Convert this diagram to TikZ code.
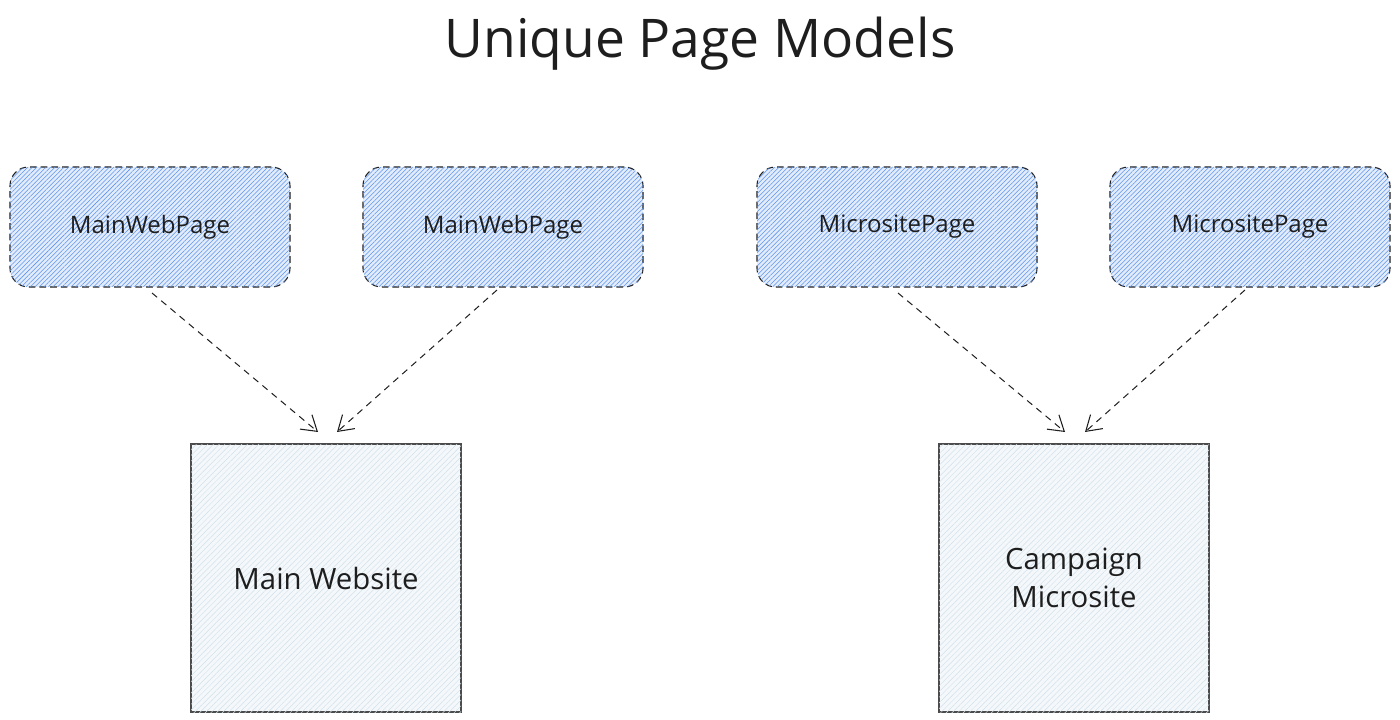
\documentclass[tikz,border=0pt]{standalone}
\usepackage{fontspec}
\setmainfont{Open Sans}
\usetikzlibrary{arrows.meta,patterns,patterns.meta}
\definecolor{pagefill}{HTML}{E2ECFC}
\definecolor{pageline}{HTML}{5B93EC}
\definecolor{sitefill}{HTML}{F5F8FB}
\definecolor{siteline}{HTML}{CFE0EA}
\definecolor{ink}{HTML}{1E1E1E}
\begin{document}
\begin{tikzpicture}[x=0.75pt,y=-0.75pt,
  pagebox/.style={draw=ink,dashed,dash pattern=on 5pt off 3pt,line width=0.8pt,rounded corners=14pt,
     minimum width=210pt,minimum height=90pt,fill=pagefill,
     postaction={pattern={Lines[angle=45,distance=2.4pt,line width=0.4pt]},pattern color=pageline},
     font=\fontsize{18}{22}\selectfont,text=ink},
  sitebox/.style={draw=ink!80,line width=1pt,minimum width=202.5pt,minimum height=201pt,fill=sitefill,
     postaction={pattern={Lines[angle=45,distance=3pt,line width=0.35pt]},pattern color=siteline},
     font=\fontsize{22}{28.5}\selectfont,text=ink,align=center},
  link/.style={draw=ink,line width=0.75pt,dash pattern=on 5pt off 4pt,
     -{Straight Barb[length=11pt,width=14pt,line width=0.8pt]}}
]
\useasboundingbox (0,0) rectangle (1400,720);
\node[font=\fontsize{40}{46}\selectfont,text=ink] (title) at (700,44) {Unique Page Models};
\node[pagebox] (p1) at (150,227) {MainWebPage};
\node[pagebox] (p2) at (503,227) {MainWebPage};
\node[pagebox] (p3) at (897,227) {MicrositePage};
\node[pagebox] (p4) at (1250,227) {MicrositePage};
\node[sitebox] (s1) at (326,578) {Main Website};
\node[sitebox] (s2) at (1074,578) {Campaign\\Microsite};
\coordinate (a1s) at (152,293); \coordinate (a1e) at (318,432);
\coordinate (a2s) at (497,290); \coordinate (a2e) at (337,432);
\coordinate (a3s) at (898,293); \coordinate (a3e) at (1065,432);
\coordinate (a4s) at (1245,290); \coordinate (a4e) at (1085,432);
\draw[link] (a1s) -- (a1e);
\draw[link] (a2s) -- (a2e);
\draw[link] (a3s) -- (a3e);
\draw[link] (a4s) -- (a4e);
\end{tikzpicture}
\end{document}
